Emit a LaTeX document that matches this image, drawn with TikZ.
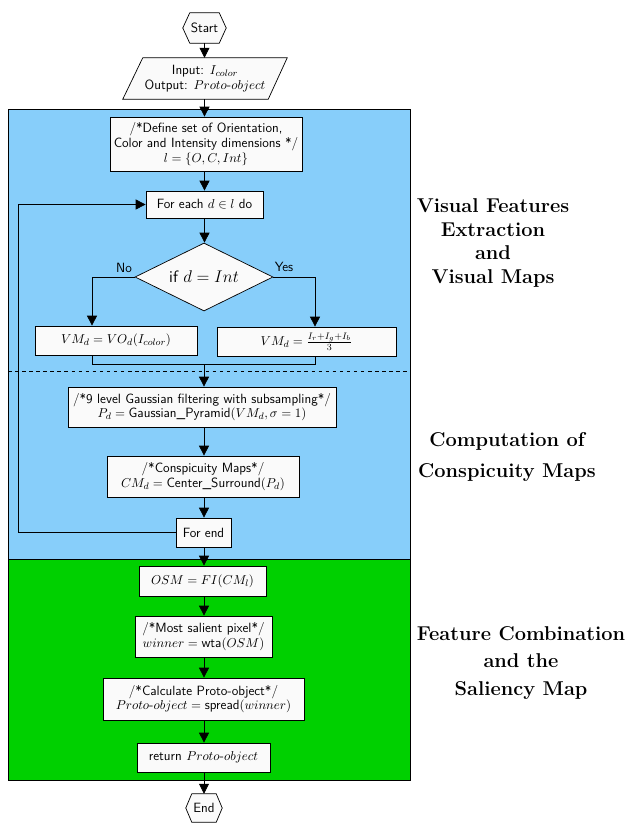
\documentclass[tikz,border=0pt]{standalone}
\usetikzlibrary{arrows.meta,shapes.geometric,calc}

\definecolor{bluezone}{RGB}{135,206,250}
\definecolor{greenzone}{RGB}{0,208,0}
\definecolor{boxfill}{RGB}{250,250,250}
\newcommand{\un}{0.85pt}
\newcommand{\boxfont}{\sffamily\fontsize{11.4}{12.6}\selectfont}

\begin{document}
\begin{tikzpicture}[x=0.85pt,y=-0.85pt,
  wire/.style={line width=0.6pt},
  arr/.style={wire,-{Triangle[length=8.5pt,width=8.5pt]}},
  box/.style={draw,fill=boxfill,line width=0.6pt,align=center,font=\boxfont,inner sep=0pt},
  terminal/.style={inner sep=0pt,font=\boxfont},
  lbl/.style={font=\boxfont,inner sep=0pt},
  title/.style={align=center,inner sep=0pt}]

\useasboundingbox (0,0) rectangle (630,823);

% stage backgrounds
\filldraw[fill=bluezone,draw=black,line width=0.6pt] (8,109) rectangle (410,559);
\filldraw[fill=greenzone,draw=black,line width=0.6pt] (8,559) rectangle (410,780);
\draw[dashed,line width=0.5pt] (8,371) -- (410,371);

% start / end terminals
\node[terminal,minimum width=43*\un,minimum height=30*\un] (start) at (204.5,28) {Start};
\draw[wire,fill=boxfill] (start.west) -- ($(start.north west)+(7,0)$) -- ($(start.north east)+(-7,0)$)
  -- (start.east) -- ($(start.south east)+(-7,0)$) -- ($(start.south west)+(7,0)$) -- cycle;
\node[terminal] at (start) {Start};

\node[terminal,minimum width=36*\un,minimum height=28*\un] (finish) at (204,808) {End};
\draw[wire,fill=boxfill] (finish.west) -- ($(finish.north west)+(6,0)$) -- ($(finish.north east)+(-6,0)$)
  -- (finish.east) -- ($(finish.south east)+(-6,0)$) -- ($(finish.south west)+(6,0)$) -- cycle;
\node[terminal] at (finish) {End};

% input / output
\node[terminal,align=center,minimum width=164*\un,minimum height=41*\un] (input) at (205,78.5) {};
\draw[wire,fill=boxfill] ($(input.north west)+(20,0)$) -- (input.north east)
  -- ($(input.south east)+(-19,0)$) -- (input.south west) -- cycle;
\node[terminal,align=center] at (input) {Input: $I_{color}$\\ Output: $Proto\mbox{-}object$};

% feature extraction
\node[box,minimum width=192*\un,minimum height=54*\un] (define) at (206,144)
  {/*Define set of Orientation,\\ Color and Intensity dimensions */\\ $l=\{O,C,Int\}$};
\node[box,minimum width=117*\un,minimum height=27*\un] (foreach) at (204.5,204.5)
  {For each $d\in l$ do};
\node[box,diamond,aspect=2,minimum width=138*\un,minimum height=68*\un,font=\sffamily\fontsize{14}{16}\selectfont] (test) at (204,277)
  {if $d=Int$};
\node[box,minimum width=162*\un,minimum height=29*\un] (vmno) at (116,340.5)
  {$VM_d=VO_d(I_{color})$};
\node[box,minimum width=179*\un,minimum height=29*\un] (vmyes) at (306.5,341.5)
  {$VM_d=\frac{I_r+I_g+I_b}{3}$};

\coordinate (nobend) at (92,277);
\coordinate (yesbend) at (315,277);
\coordinate (merge) at (204,364);

\node[lbl] at (124,268) {No};
\node[lbl] at (284,267) {Yes};

% conspicuity maps
\node[box,minimum width=268*\un,minimum height=40*\un] (gauss) at (202,407)
  {/*9 level Gaussian filtering with subsampling*/\\ $P_d=\mbox{Gaussian\_Pyramid}(VM_d,\sigma=1)$};
\node[box,minimum width=192*\un,minimum height=41*\un] (consp) at (203,476.5)
  {/*Conspicuity Maps*/\\ $CM_d=\mbox{Center\_Surround}(P_d)$};
\node[box,minimum width=55*\un,minimum height=29*\un] (forend) at (203.5,532.5) {For end};
\coordinate (loop) at (18,532.5);

% combination and saliency
\node[box,minimum width=127*\un,minimum height=30*\un] (osm) at (202.5,581) {$OSM=FI(CM_l)$};
\node[box,minimum width=137*\un,minimum height=41*\un] (salient) at (203.5,636.5)
  {/*Most salient pixel*/\\ $winner=\mbox{wta}(OSM)$};
\node[box,minimum width=201*\un,minimum height=42*\un] (proto) at (203.5,699)
  {/*Calculate Proto-object*/\\ $Proto\mbox{-}object=\mbox{spread}(winner)$};
\node[box,minimum width=133*\un,minimum height=29*\un] (ret) at (203.5,757.5)
  {return $Proto\mbox{-}object$};

% connectors
\draw[arr] (start.south) -- (start.south |- input.north);
\draw[arr] (input.south -| foreach) -- (foreach |- define.north);
\draw[arr] (define.south -| foreach) -- (foreach.north);
\draw[arr] (foreach.south) -- (foreach.south |- test.north);
\draw[arr] (test.west) -- (nobend) -- (nobend |- vmno.north);
\draw[arr] (test.east) -- (yesbend) -- (yesbend |- vmyes.north);
\draw[wire] (nobend |- vmno.south) -- (nobend |- merge) -- (yesbend |- merge) -- (yesbend |- vmyes.south);
\draw[arr] (merge) -- (merge |- gauss.north);
\draw[arr] (gauss.south -| merge) -- (merge |- consp.north);
\draw[arr] (consp.south -| merge) -- (merge |- forend.north);
\draw[arr] (forend.west) -- (loop) -- (loop |- foreach.west) -- (foreach.west);
\draw[arr] (forend.south -| merge) -- (merge |- osm.north);
\draw[arr] (osm.south -| merge) -- (merge |- salient.north);
\draw[arr] (salient.south -| merge) -- (merge |- proto.north);
\draw[arr] (proto.south -| merge) -- (merge |- ret.north);
\draw[arr] (ret.south -| merge) -- (merge |- finish.north);

% stage titles
\node[title,font=\fontsize{17}{20.2}\selectfont\bfseries] (t1) at (493,243)
  {Visual Features\\ Extraction\\ and\\ Visual Maps};
\node[title,font=\fontsize{17}{26}\selectfont\bfseries] (t2) at (507,457)
  {Computation of\\ Conspicuity Maps};
\node[title,font=\fontsize{17}{23}\selectfont\bfseries] (t3) at (521,663)
  {Feature Combination\\ and the\\ Saliency Map};
\end{tikzpicture}
\end{document}
